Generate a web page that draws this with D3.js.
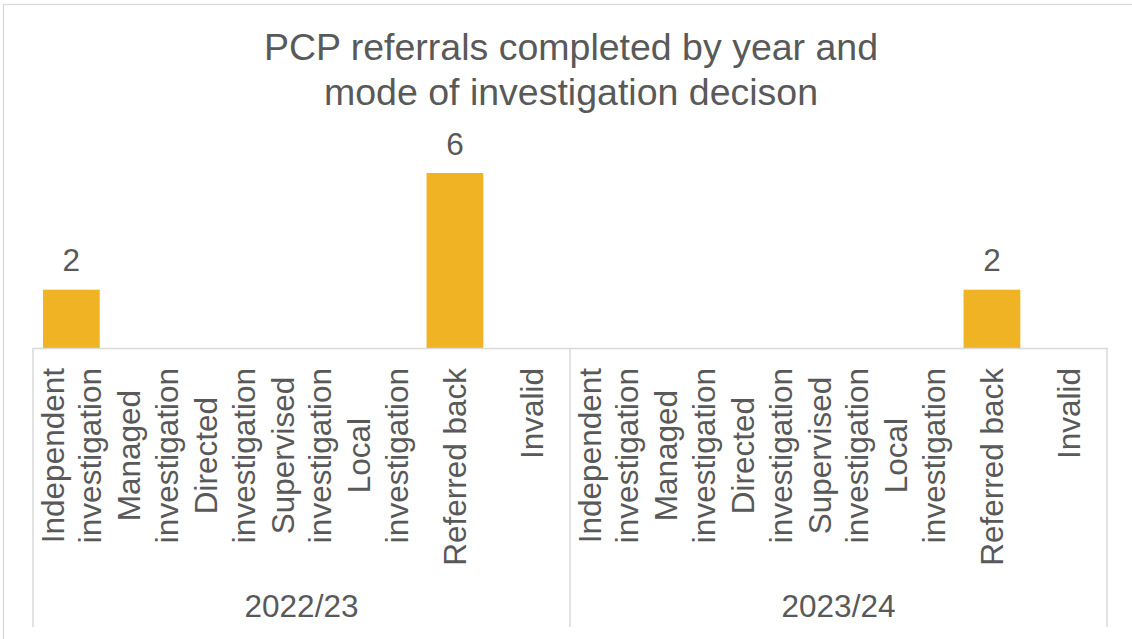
<!DOCTYPE html>
<html>
<head>
<meta charset="utf-8">
<script src="https://cdn.jsdelivr.net/npm/d3@7"></script>
<style>
  html, body { margin: 0; padding: 0; background: #ffffff; }
  svg { display: block; }
  text { font-family: "Liberation Sans", Arial, sans-serif; fill: #595959; }
</style>
</head>
<body>
<svg id="chart" width="1132" height="639"></svg>
<script>
// Investigation modes shown under each year
const modes = [
  ["Independent", "investigation"],
  ["Managed", "investigation"],
  ["Directed", "investigation"],
  ["Supervised", "investigation"],
  ["Local", "investigation"],
  ["Referred back"],
  ["Invalid"]
];
const years = ["2022/23", "2023/24"];

// Completed referrals per mode, one array per year (in mode order)
const values2022 = [2, 0, 0, 0, 0, 6, 0];
const values2023 = [0, 0, 0, 0, 0, 2, 0];

const titleLines = ["PCP referrals completed by year and", "mode of investigation decison"];

const seriesByYear = [values2022, values2023];
const rows = [];
years.forEach((yr, yi) => {
  modes.forEach((m, mi) => {
    rows.push({ key: yr + "|" + mi, year: yr, lines: m, value: seriesByYear[yi][mi] });
  });
});

const svg = d3.select("#chart");
const W = 1132, H = 639;
const left = 33, right = 1107, baseY = 348, axisBottom = 627;
const labelSize = "31.5px";

// Chart area frame
svg.append("rect")
  .attr("x", 3.5).attr("y", 4.5)
  .attr("width", W + 20).attr("height", H + 20)
  .attr("fill", "#ffffff")
  .attr("stroke", "#d9d9d9").attr("stroke-width", 1.3);

// Title
svg.append("text")
  .attr("x", 571).attr("y", 60)
  .attr("text-anchor", "middle")
  .style("font-size", "37.5px")
  .selectAll("tspan")
  .data(titleLines)
  .join("tspan")
  .attr("x", 571)
  .attr("dy", (d, i) => i === 0 ? 0 : 44.5)
  .text(d => d);

const x = d3.scaleBand()
  .domain(rows.map(d => d.key))
  .range([left, right])
  .paddingInner(0.26)
  .paddingOuter(0.13);

const y = d3.scaleLinear()
  .domain([0, 6])
  .range([baseY, 173]);

const yearScale = d3.scaleBand()
  .domain(years)
  .range([left, right]);

// Bars
svg.append("g")
  .selectAll("rect")
  .data(rows.filter(d => d.value > 0))
  .join("rect")
  .attr("x", d => x(d.key))
  .attr("y", d => y(d.value))
  .attr("width", x.bandwidth())
  .attr("height", d => y(0) - y(d.value))
  .attr("fill", "#f0b323");

// Value labels
svg.append("g")
  .selectAll("text")
  .data(rows.filter(d => d.value > 0))
  .join("text")
  .attr("x", d => x(d.key) + x.bandwidth() / 2)
  .attr("y", d => y(d.value) - 18.5)
  .attr("text-anchor", "middle")
  .style("font-size", labelSize)
  .text(d => d.value);

// Category axis line and group dividers
const axis = svg.append("g").attr("stroke", "#d9d9d9").attr("stroke-width", 1.5);
axis.append("line")
  .attr("x1", left - 0.5).attr("x2", right + 0.5)
  .attr("y1", baseY + 0.5).attr("y2", baseY + 0.5);
const dividers = years.map(yr => yearScale(yr)).concat([right]);
axis.selectAll("line.div")
  .data(dividers)
  .join("line")
  .attr("class", "div")
  .attr("x1", d => d).attr("x2", d => d)
  .attr("y1", baseY).attr("y2", axisBottom);

// Rotated category labels: each block ends just below the axis, lines centred in the block
const labelTop = 368;
const lineGap = 37.5;
const catGroup = svg.append("g").style("font-size", labelSize);
rows.forEach(d => {
  const cx = x(d.key) + x.bandwidth() / 2;
  const g = catGroup.append("g").attr("transform", `translate(${cx},0) rotate(-90)`);
  const texts = d.lines.map((line, i) => g.append("text")
    .attr("dominant-baseline", "central")
    .attr("text-anchor", "middle")
    .attr("y", (i - (d.lines.length - 1) / 2) * lineGap)
    .text(line));
  const maxLen = d3.max(texts, t => t.node().getComputedTextLength());
  texts.forEach(t => t.attr("x", -(labelTop + maxLen / 2)));
});

// Year labels
svg.append("g")
  .selectAll("text")
  .data(years)
  .join("text")
  .attr("x", d => yearScale(d) + yearScale.bandwidth() / 2)
  .attr("y", 617)
  .attr("text-anchor", "middle")
  .style("font-size", labelSize)
  .text(d => d);
</script>
</body>
</html>
